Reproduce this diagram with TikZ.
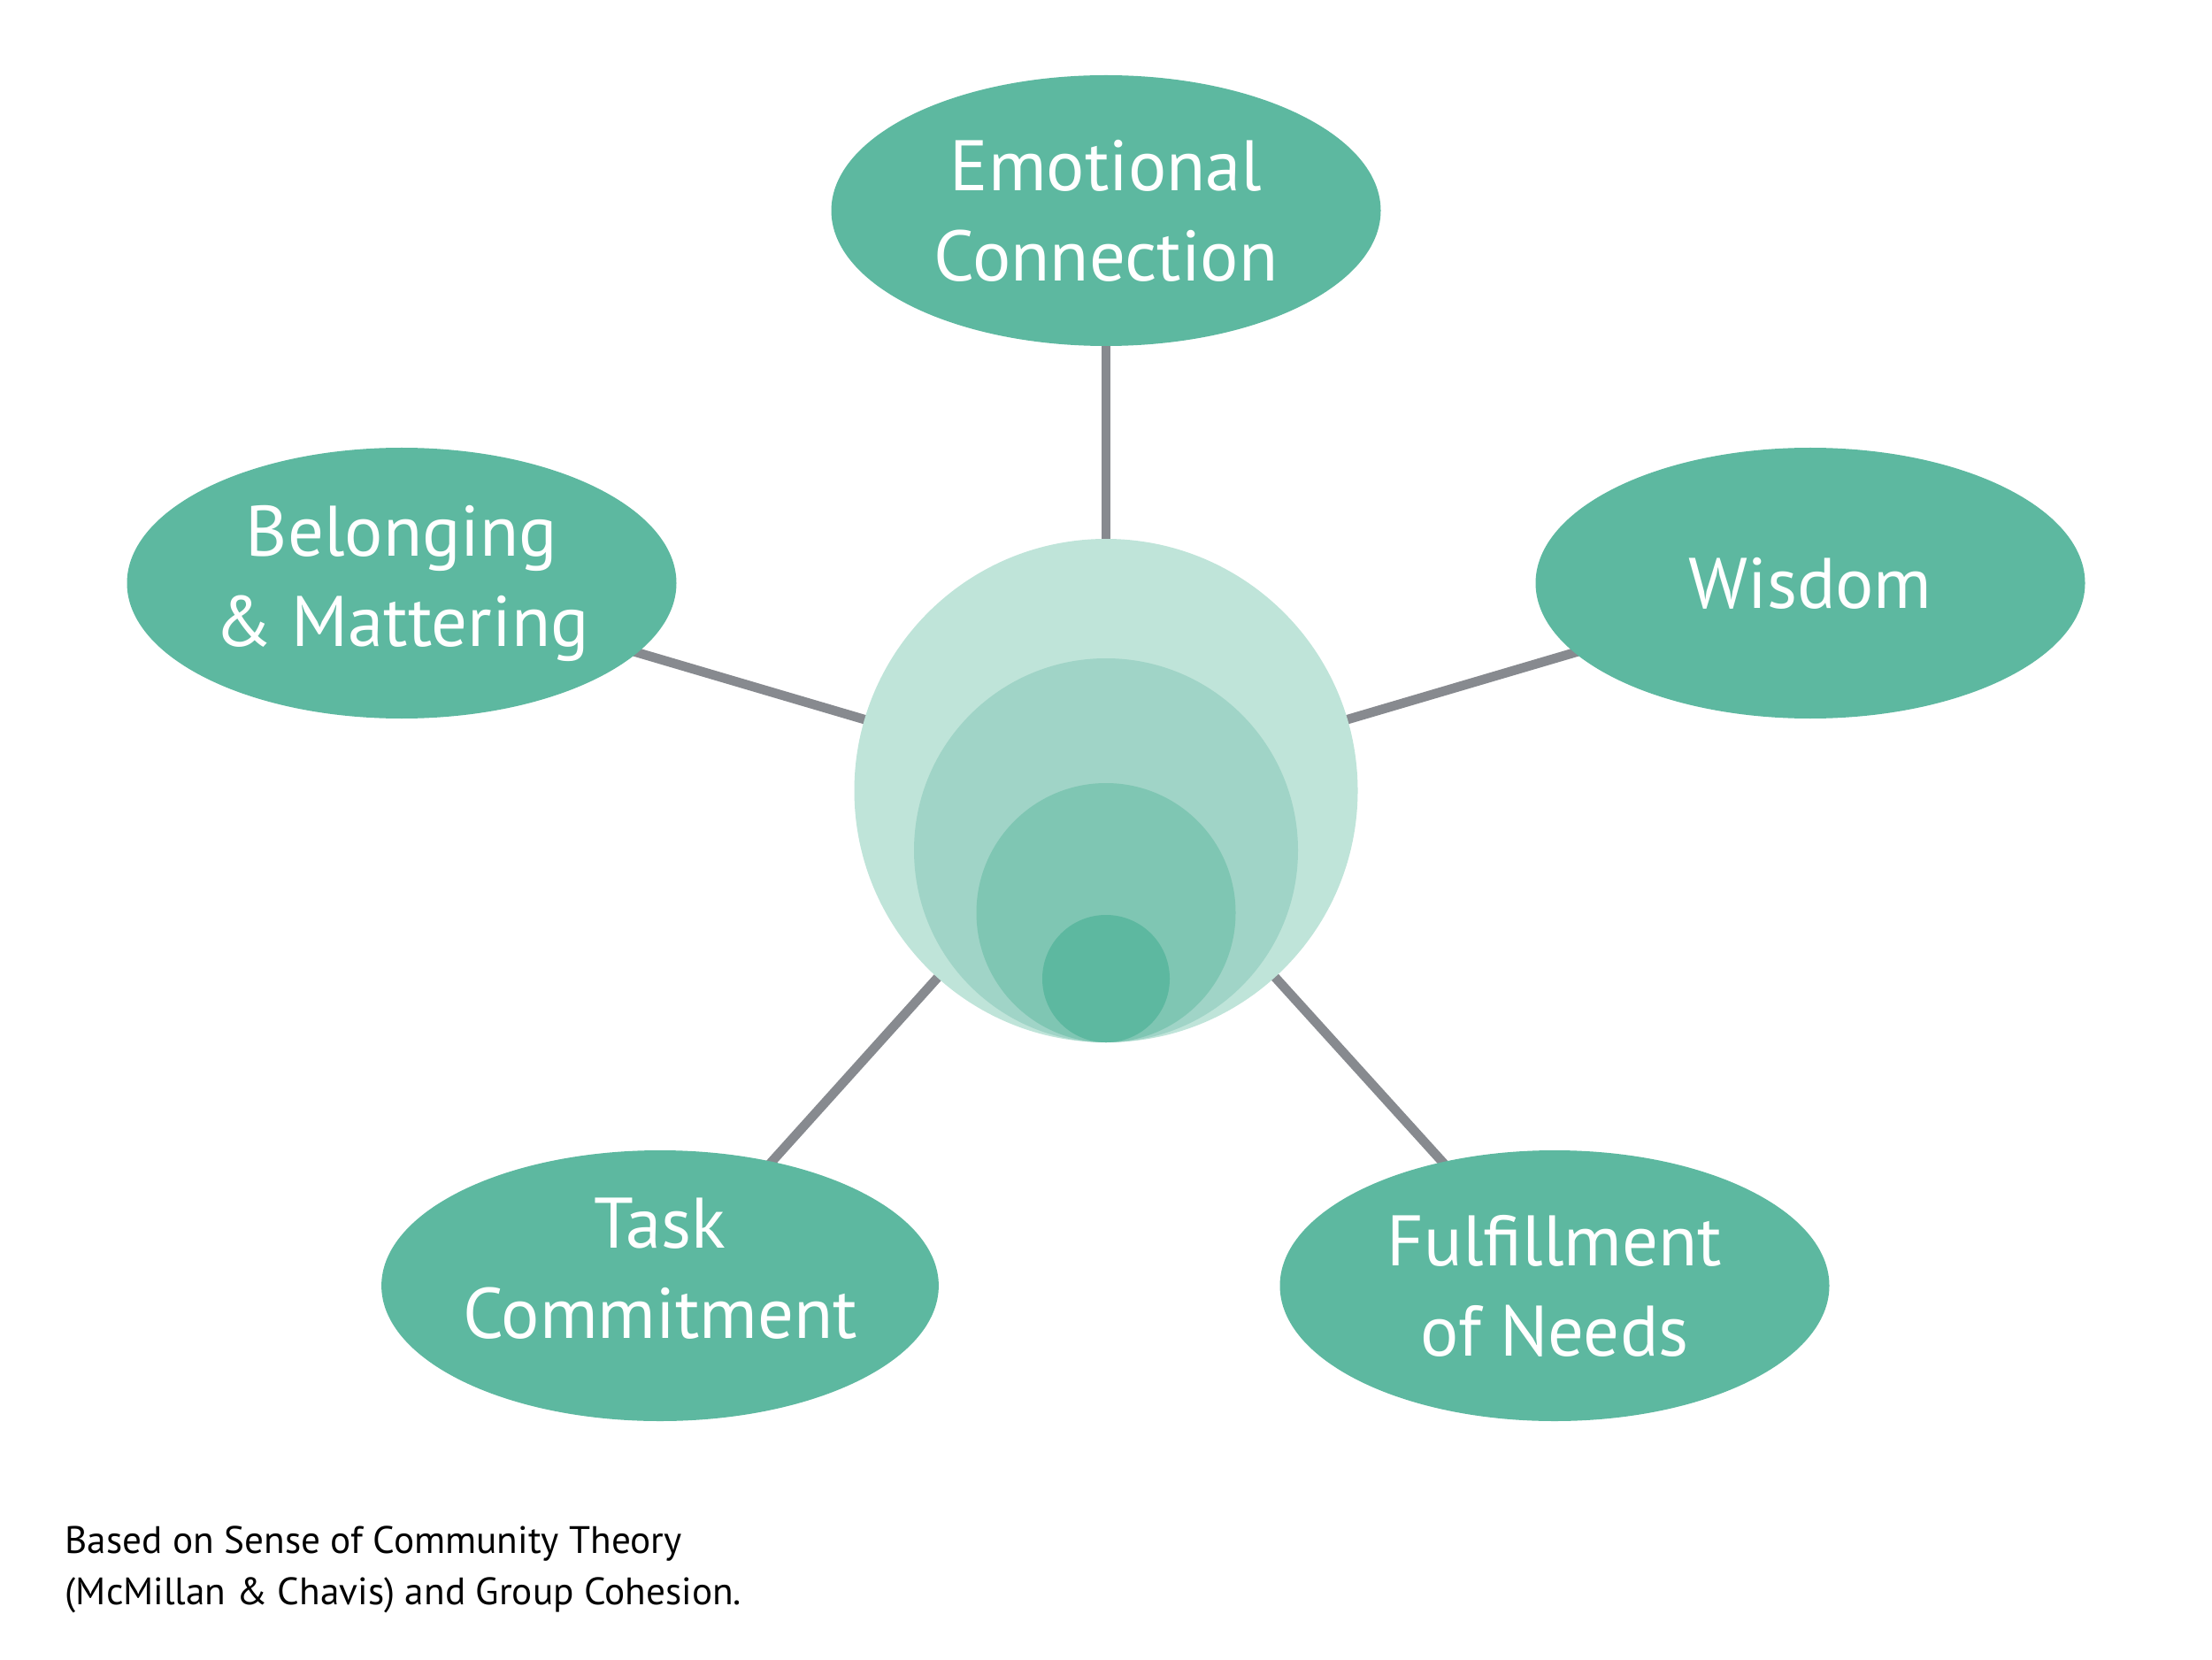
\documentclass[tikz,border=0pt]{standalone}
\usepackage{fontspec}
\setmainfont{PT Sans}
\usetikzlibrary{shapes.geometric,backgrounds}
\definecolor{facetgreen}{HTML}{5DB8A0}
\definecolor{ringpale}{HTML}{BFE4D9}
\definecolor{ringlight}{HTML}{A0D4C7}
\definecolor{ringmid}{HTML}{7FC6B3}
\definecolor{spokegray}{HTML}{878A8F}

\begin{document}
\begin{tikzpicture}[
    facet/.style={ellipse, fill=facetgreen, text=white, inner sep=0pt,
      minimum width=6.21cm, minimum height=3.06cm, align=center,
      font=\fontsize{23}{29}\selectfont},
    ring/.style={circle, inner sep=0pt},
    spoke/.style={draw=spokegray, line width=3pt}
  ]
    \useasboundingbox (0,0) rectangle (25,18.75);

    \node[ring, fill=ringpale, minimum size=5.69cm] at (12.50,9.815) (hub) {};
    \node[ring, fill=ringlight, minimum size=4.34cm] at (12.50,9.14) (ringB) {};
    \node[ring, fill=ringmid, minimum size=2.93cm] at (12.50,8.435) (ringC) {};
    \node[ring, fill=facetgreen, minimum size=1.44cm] at (12.50,7.69) (core) {};

    \node[facet] at (12.50,16.37) (emo) {Emotional\\Connection};
    \node[facet] at (4.54,12.16) (belong) {Belonging\\\& Mattering};
    \node[facet] at (20.46,12.16) (wis) {Wisdom};
    \node[facet] at (7.46,4.22) (task) {Task\\Commitment\rule[-0.4cm]{0pt}{0pt}};
    \node[facet] at (17.57,4.22) (needs) {Fulfillment\\of Needs};

    \begin{scope}[on background layer]
      \draw[spoke] (hub.center) -- (emo.center);
      \draw[spoke] (hub.center) -- (belong.center);
      \draw[spoke] (hub.center) -- (wis.center);
      \draw[spoke] (hub.center) -- (task.center);
      \draw[spoke] (hub.center) -- (needs.center);
    \end{scope}

    \node[anchor=base west, align=left, inner sep=0pt,
      font=\fontsize{12.3}{16.5}\selectfont] at (0.73,0.62) (note)
      {Based on Sense of Community Theory\\(McMillan \& Chavis) and Group Cohesion.};
\end{tikzpicture}
\end{document}
